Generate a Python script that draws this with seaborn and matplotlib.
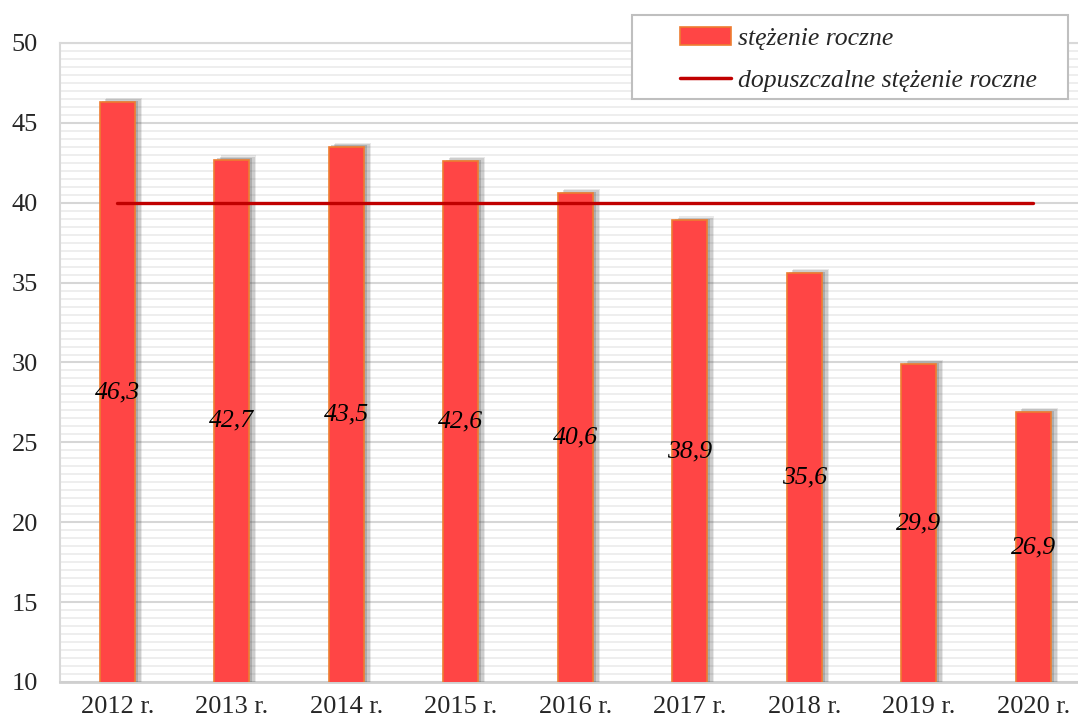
import matplotlib
matplotlib.use("Agg")
import matplotlib.pyplot as plt
import matplotlib.patheffects as pe
from matplotlib.ticker import MultipleLocator
from matplotlib.patches import Patch, Rectangle
from matplotlib.lines import Line2D
import seaborn as sns
import pandas as pd

# dane
years = ["2012 r.", "2013 r.", "2014 r.", "2015 r.", "2016 r.",
         "2017 r.", "2018 r.", "2019 r.", "2020 r."]
values = [46.3, 42.7, 43.5, 42.6, 40.6, 38.9, 35.6, 29.9, 26.9]
limit = [40] * len(years)
labels = ["46,3", "42,7", "43,5", "42,6", "40,6", "38,9", "35,6", "29,9", "26,9"]

df = pd.DataFrame({"rok": years, "wartosc": values, "norma": limit})

sns.set_theme(style="white")
plt.rcParams["font.family"] = ["Liberation Serif", "DejaVu Serif"]

fig = plt.figure(figsize=(10.78, 7.22), dpi=100)
ax = fig.add_axes([60 / 1078, 40 / 722, 1030.5 / 1078, 639 / 722])

sns.barplot(data=df, x="rok", y="wartosc", color="#FF4545", width=0.31,
            edgecolor="#ED7D31", linewidth=1.2, saturation=1, ax=ax, zorder=3)

# rozmyty cień słupków
for bar in ax.patches:
    bar.set_path_effects([
        pe.SimplePatchShadow(offset=(5, 3), shadow_rgbFace="#505050", alpha=0.12),
        pe.SimplePatchShadow(offset=(4, 2), shadow_rgbFace="#505050", alpha=0.18),
        pe.SimplePatchShadow(offset=(2, 1), shadow_rgbFace="#505050", alpha=0.25),
        pe.Normal(),
    ])

sns.lineplot(data=df, x="rok", y="norma", color="#C00000", linewidth=2.4,
             ax=ax, zorder=4, sort=False)

ax.set_xlim(-0.5, 8.5)
ax.set_ylim(10, 50)
ax.yaxis.set_major_locator(MultipleLocator(5))
ax.yaxis.set_minor_locator(MultipleLocator(0.5))
ax.grid(which="minor", axis="y", color="#EDEDED", linewidth=1.3, zorder=0)
ax.grid(which="major", axis="y", color="#D6D6D6", linewidth=1.5, zorder=0)
ax.set_axisbelow(True)

for i, (v, t) in enumerate(zip(values, labels)):
    ax.text(i, (10 + v) / 2, t, ha="center", va="center", fontsize=18.5,
            style="italic", color="black", zorder=5)

ax.set_xlabel("")
ax.set_ylabel("")
ax.tick_params(axis="both", labelsize=19, length=0)
ax.tick_params(axis="x", pad=10)
ax.tick_params(axis="y", pad=16)
for s in ["left", "top", "bottom"]:
    ax.spines[s].set_color("#D9D9D9")
    ax.spines[s].set_linewidth(1.5)
ax.spines["bottom"].set_color("#CFCFCF")
ax.spines["bottom"].set_linewidth(2)
ax.spines["right"].set_visible(False)

# ramka legendy
fig.patches.append(Rectangle((632 / 1078, 1 - 99 / 722), 436 / 1078, 84 / 722,
                             transform=fig.transFigure, facecolor="white",
                             edgecolor="#BFBFBF", linewidth=1.5, zorder=10))

handles = [
    Patch(facecolor="#FF4545", edgecolor="#ED7D31", linewidth=1.2),
    Line2D([0], [0], color="#C00000", linewidth=2.5),
]
leg = fig.legend(handles, ["stężenie roczne", "dopuszczalne stężenie roczne"],
                 loc="upper left", bbox_to_anchor=(680 / 1078, 1 - 27 / 722),
                 prop={"style": "italic", "size": 18.5}, frameon=False,
                 borderpad=0, handlelength=2.0, handletextpad=0.25,
                 labelspacing=0.75, borderaxespad=0)
leg.set_zorder(11)

fig.savefig("out.png", dpi=100)
